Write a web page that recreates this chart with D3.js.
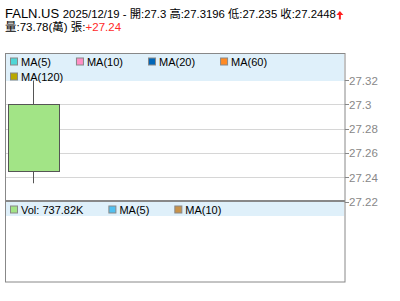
<!DOCTYPE html>
<html lang="zh-Hant">
<head>
    <meta charset="UTF-8">
    <title>FALN.US</title>
    <script src="https://d3js.org/d3.v7.min.js"></script>
    <style>
        body {
            margin: 0;
            padding: 0;
            background: #fff;
            font-family: "Liberation Sans", Arial, sans-serif;
        }
        svg text {
            font-family: "Liberation Sans", Arial, "Noto Sans CJK TC", sans-serif;
        }
    </style>
</head>
<body>
    <div id="chart"></div>

    <script>
        // 資料
        const symbol = 'FALN.US';
        const dates = ['2025/12/19'];
        const opens = [27.3];
        const highs = [27.3196];
        const lows = [27.235];
        const closes = [27.2448];
        const volumes = [737.82]; // K
        const change = [27.24];
        const priceTicks = [27.22, 27.24, 27.26, 27.28, 27.3, 27.32];
        const priceDomain = [27.22, 27.3414];
        const maLegend = ['MA(5)', 'MA(10)', 'MA(20)', 'MA(60)', 'MA(120)'];
        const maColors = ['#4fd6d6', '#ff8fc4', '#0066b8', '#ff8a24', '#b8a800'];
        const volLegend = ['Vol: 737.82K', 'MA(5)', 'MA(10)'];
        const volColors = ['#a2e486', '#50c0f0', '#c8924a'];

        const width = 400, height = 301;
        const plotLeft = 5.5, plotRight = 345;
        const plotTop = 54, priceBottom = 201.5, volTop = 202, plotBottom = 282;

        const svg = d3.select('#chart')
            .append('svg')
            .attr('width', width)
            .attr('height', height);

        svg.append('rect').attr('width', width).attr('height', height).attr('fill', '#fff');

        // 標題
        const t1 = svg.append('text').attr('x', 5).attr('y', 18).attr('fill', '#000');
        t1.append('tspan').attr('font-size', 13).text(symbol + ' ');
        t1.append('tspan').attr('font-size', 11.35)
            .text(dates[0] + ' - 開:' + opens[0] + ' 高:' + highs[0] + ' 低:' + lows[0] + ' 收:' + closes[0]);
        const t1end = t1.node().getComputedTextLength() + 5;

        // 上漲箭頭
        svg.append('path')
            .attr('d', `M${t1end + 4},11 L${t1end + 7.5},15 L${t1end + 5},15 L${t1end + 5},19.5 L${t1end + 3},19.5 L${t1end + 3},15 L${t1end + 0.5},15 Z`)
            .attr('fill', '#ff2020');

        const t2 = svg.append('text').attr('x', 5).attr('y', 31).attr('font-size', 11.5).attr('fill', '#000');
        t2.append('tspan').text('量:' + (volumes[0] / 10).toFixed(2) + '(萬) 張:');
        t2.append('tspan').attr('fill', '#ff2a2a').text('+' + change[0]);

        // 比例尺
        const y = d3.scaleLinear().domain(priceDomain).range([priceBottom, plotTop]);
        const x = d3.scaleBand().domain(dates).range([plotLeft, 61]).padding(0.045);

        // 網格
        svg.append('g')
            .selectAll('line')
            .data(priceTicks)
            .enter().append('line')
            .attr('x1', plotLeft).attr('x2', plotRight)
            .attr('y1', d => Math.round(y(d)) + 0.5)
            .attr('y2', d => Math.round(y(d)) + 0.5)
            .attr('stroke', '#d6d6d6');

        // 圖例背景
        svg.append('rect')
            .attr('x', 6).attr('y', plotTop).attr('width', plotRight - 7).attr('height', 27)
            .attr('fill', '#dff0fa');
        svg.append('rect')
            .attr('x', 6).attr('y', volTop).attr('width', plotRight - 7).attr('height', 14)
            .attr('fill', '#dff0fa');

        // K線
        const candle = svg.append('g');
        candle.selectAll('line')
            .data(dates)
            .enter().append('line')
            .attr('x1', d => Math.round(x(d) + x.bandwidth() / 2) + 0.5)
            .attr('x2', d => Math.round(x(d) + x.bandwidth() / 2) + 0.5)
            .attr('y1', (d, i) => y(highs[i]))
            .attr('y2', (d, i) => y(lows[i]))
            .attr('stroke', '#555');
        candle.selectAll('rect')
            .data(dates)
            .enter().append('rect')
            .attr('x', d => Math.round(x(d)) + 0.5)
            .attr('y', (d, i) => Math.round(y(Math.max(opens[i], closes[i]))) + 0.5)
            .attr('width', d => Math.round(x.bandwidth()))
            .attr('height', (d, i) => Math.round(Math.abs(y(opens[i]) - y(closes[i]))))
            .attr('fill', '#a2e486')
            .attr('stroke', '#555');

        // 圖例
        function legend(items, colors, y0, rowH) {
            const g = svg.append('g');
            let cx = 11, cy = y0;
            items.forEach((name, i) => {
                const txt = g.append('text')
                    .attr('font-size', 11)
                    .attr('fill', '#000')
                    .text(name);
                const w = txt.node().getComputedTextLength();
                if (cx + 10 + w > plotRight - 2) {
                    cx = 11;
                    cy += rowH;
                }
                txt.attr('x', cx + 10).attr('y', cy + 8);
                g.append('rect')
                    .attr('x', cx - 0.5).attr('y', cy + 0.5)
                    .attr('width', 7).attr('height', 7)
                    .attr('fill', colors[i])
                    .attr('stroke', '#888');
                cx += 10 + w + 26;
            });
        }
        legend(maLegend, maColors, 57.5, 15);
        legend(volLegend, volColors, 205.5, 15);

        // 框線
        svg.append('rect')
            .attr('x', plotLeft).attr('y', plotTop - 0.5)
            .attr('width', plotRight - plotLeft).attr('height', plotBottom - plotTop + 0.5)
            .attr('fill', 'none')
            .attr('stroke', '#888');
        svg.append('line')
            .attr('x1', plotLeft).attr('x2', plotRight)
            .attr('y1', 201).attr('y2', 201)
            .attr('stroke', '#888').attr('stroke-width', 2);

        // 價格軸
        const axis = svg.append('g');
        axis.selectAll('line')
            .data(priceTicks)
            .enter().append('line')
            .attr('x1', plotRight).attr('x2', plotRight + 4)
            .attr('y1', d => Math.round(y(d)) + 0.5)
            .attr('y2', d => Math.round(y(d)) + 0.5)
            .attr('stroke', '#888');
        axis.selectAll('text')
            .data(priceTicks)
            .enter().append('text')
            .attr('x', plotRight + 4)
            .attr('y', d => y(d) + 4.5)
            .attr('font-size', 11.5)
            .attr('fill', '#888')
            .text(d => d3.format('')(+d.toFixed(2)));
    </script>
</body>
</html>
